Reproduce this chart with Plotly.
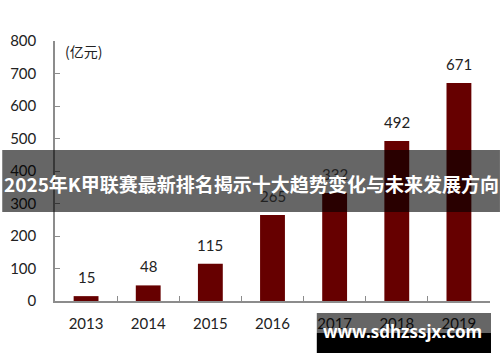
import plotly.graph_objects as go

years = ["2013", "2014", "2015", "2016", "2017", "2018", "2019"]
values = [15, 48, 115, 265, 332, 492, 671]
unit_label = "(亿元)"
banner_text = "2025年K甲联赛最新排名揭示十大趋势变化与未来发展方向"
watermark_text = "www.sdhzssjx.com"

BAR_COLOR = "#660000"
FONT = "Lato, 'Noto Sans', sans-serif"

fig = go.Figure()
fig.add_trace(go.Bar(
    x=years, y=values, marker=dict(color=BAR_COLOR, line=dict(width=0)),
    width=0.4, hoverinfo="skip",
))

# value labels above bars (category index positions)
for i, v in enumerate(values):
    fig.add_annotation(x=i, y=v, xref="x", yref="y", text=str(v), showarrow=False,
                       yanchor="bottom", yshift=8,
                       font=dict(family=FONT, size=15, color="#222"))

L, R, T, B = 53, 10, 41, 61
W, H = 500, 362
pw, ph = W - L - R, H - T - B

def px_x(p):
    return (p - L) / pw

def px_y(p):
    return (H - B - p) / ph

fig.add_annotation(xref="paper", yref="paper", x=px_x(61), y=px_y(51), text=unit_label,
                   showarrow=False, xanchor="left", yanchor="middle",
                   font=dict(family="'Noto Sans CJK SC', sans-serif", size=14, color="#222"))

# banner
fig.add_shape(type="rect", xref="paper", yref="paper", x0=px_x(0), x1=px_x(500),
              y0=px_y(212), y1=px_y(150), fillcolor="rgba(0,0,0,0.6)", line=dict(width=0),
              layer="above")
fig.add_annotation(xref="paper", yref="paper", x=px_x(250), y=px_y(183), text=f"<b>{banner_text}</b>",
                   showarrow=False, xanchor="center", yanchor="middle",
                   font=dict(family="'Noto Sans CJK SC', sans-serif", size=19, color="white"))

# watermark
fig.add_shape(type="rect", xref="paper", yref="paper", x0=px_x(316), x1=px_x(491),
              y0=px_y(333), y1=px_y(313), fillcolor="rgba(0,0,0,0.6)", line=dict(width=0),
              layer="above")
fig.add_shape(type="rect", xref="paper", yref="paper", x0=px_x(316), x1=px_x(491),
              y0=px_y(353), y1=px_y(333), fillcolor="black", line=dict(width=0),
              layer="above")
fig.add_annotation(xref="paper", yref="paper", x=px_x(402), y=px_y(331), text=f"<b>{watermark_text}</b>",
                   showarrow=False, xanchor="center", yanchor="middle",
                   font=dict(family="'Noto Sans', sans-serif", size=17, color="white"))

fig.update_layout(
    width=W, height=H, margin=dict(l=L, r=R, t=T, b=B),
    paper_bgcolor="white", plot_bgcolor="white", showlegend=False,
)
fig.update_xaxes(
    type="category", range=[-0.5, len(years) - 0.5],
    showline=True, linecolor="#8c8c8c", linewidth=1.5,
    ticks="inside", ticklen=5, tickcolor="#8c8c8c", tickson="boundaries",
    tickfont=dict(family=FONT, size=15, color="#222"), ticklabelstandoff=8,
    showgrid=False, zeroline=False, tickangle=0,
)
fig.update_yaxes(
    range=[0, 800], dtick=100, showline=True, linecolor="#8c8c8c", linewidth=1.5,
    ticks="inside", ticklen=5, tickcolor="#8c8c8c",
    tickfont=dict(family=FONT, size=15, color="#222"), ticklabelstandoff=14,
    showgrid=False, zeroline=False,
)

fig.write_html("out.html")
